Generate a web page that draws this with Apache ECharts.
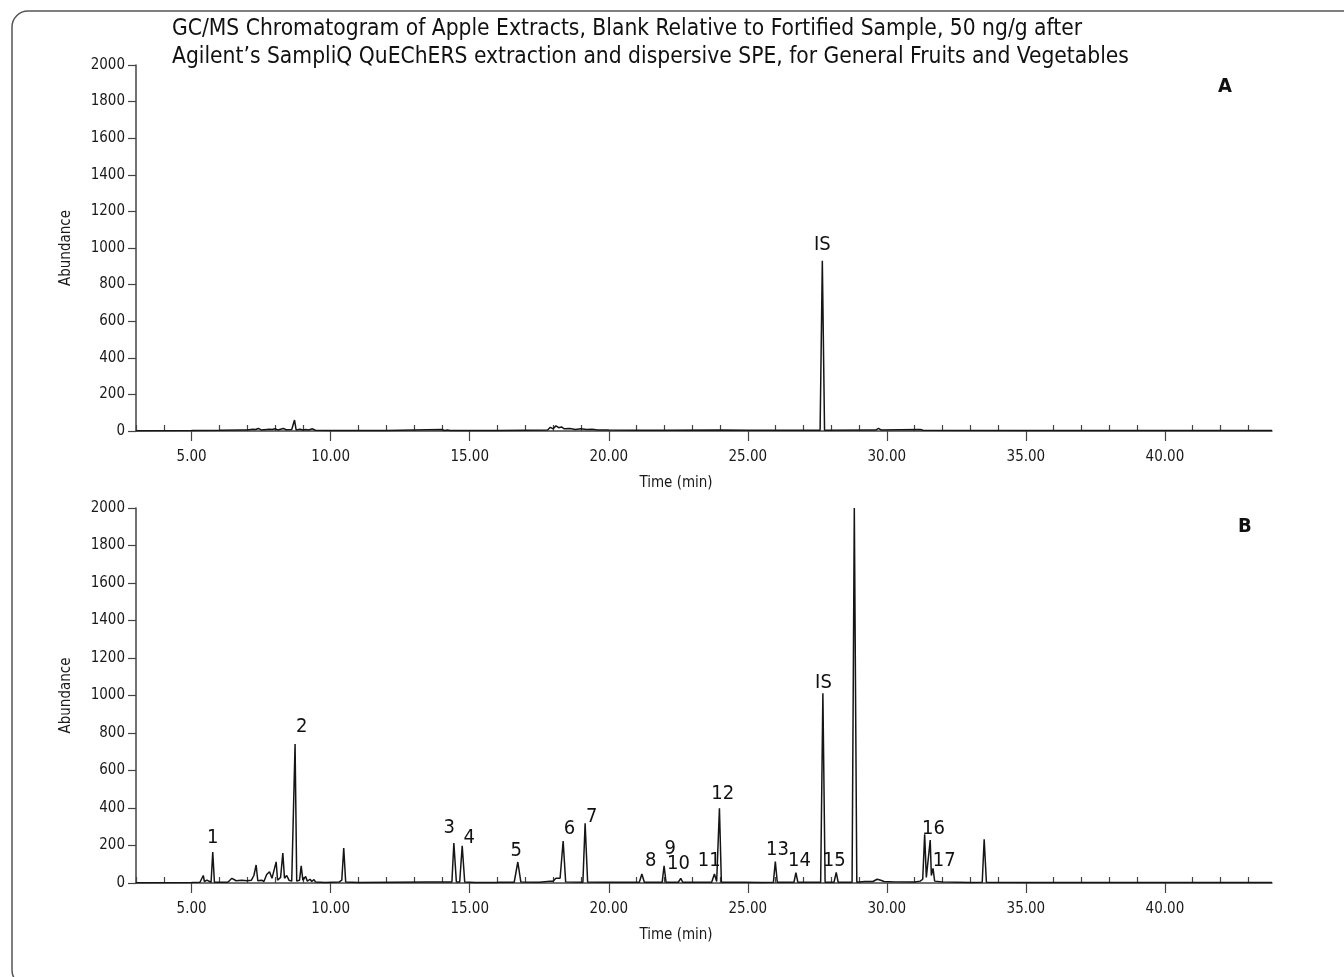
<!DOCTYPE html>
<html><head><meta charset="utf-8">
<script src="https://cdn.jsdelivr.net/npm/echarts@6/dist/echarts.min.js"></script>
<style>html,body{margin:0;padding:0;background:#fff}#c{width:1344px;height:977px}</style>
</head><body><div id="c"></div>
<script>
// ---------- data ----------
const titleLines = [
  "GC/MS Chromatogram of Apple Extracts, Blank Relative to Fortified Sample, 50 ng/g after",
  "Agilent\u2019s SampliQ QuEChERS extraction and dispersive SPE, for General Fruits and Vegetables"
];
const panelLetters = ["A", "B"];
const xMajorTicks = [5, 10, 15, 20, 25, 30, 35, 40];
const xMinorTicks = [3,4,6,7,8,9,11,12,13,14,16,17,18,19,21,22,23,24,26,27,28,29,31,32,33,34,36,37,38,39,41,42,43];
const xName = "Time (min)";
const yName = "Abundance";

// Panel A: blank extract trace (time min, abundance)
const timeA = [3.0,5.0,6.0,6.8,7.0,7.2,7.3,7.4,7.5,7.8,7.9,8.0,8.1,8.3,8.4,8.6,8.64,8.70,8.76,8.9,9.0,9.1,9.2,9.35,9.45,10.0,12.0,14.0,14.1,14.2,14.3,15.95,16.0,16.05,17.0,17.8,17.9,18.0,18.1,18.2,18.3,18.4,18.6,18.8,19.0,19.2,19.4,19.6,20.0,21.0,22.0,24.0,25.0,27.6,27.68,27.76,29.6,29.7,29.8,31.2,31.3,35.0,40.0,43.85];
const abundA = [2,3,4,6,5,10,8,14,6,10,8,12,6,14,7,8,3,60,5,10,6,8,5,12,4,3,3,8,3,6,3,3,12,3,4,5,20,12,28,18,22,12,14,8,12,8,10,6,5,4,4,5,4,4,930,4,5,14,5,8,4,3,3,3];

// Panel B: fortified sample trace (time min, abundance)
const timeB = [3.0,5.0,5.3,5.38,5.42,5.46,5.55,5.6,5.70,5.76,5.82,6.3,6.45,6.5,6.6,6.8,6.85,7.0,7.06,7.15,7.24,7.32,7.38,7.52,7.6,7.7,7.75,7.8,7.85,7.89,7.95,8.04,8.09,8.2,8.28,8.34,8.42,8.5,8.6,8.67,8.72,8.78,8.88,8.94,9.0,9.1,9.16,9.26,9.32,9.4,9.46,9.8,10.3,10.4,10.47,10.54,11.0,13.5,13.8,14.0,14.36,14.43,14.52,14.64,14.73,14.82,15.2,15.95,16.0,16.05,16.6,16.73,16.84,17.5,17.9,17.95,18.0,18.1,18.15,18.25,18.29,18.36,18.45,19.07,19.15,19.24,20.0,21.1,21.19,21.28,21.5,21.55,21.6,21.92,21.99,22.06,22.5,22.59,22.66,23.7,23.8,23.88,23.98,24.05,24.9,25.5,25.92,25.99,26.06,26.66,26.73,26.8,27.62,27.70,27.78,28.1,28.18,28.25,28.75,28.83,28.92,29.2,29.5,29.65,29.70,29.78,29.9,30.3,31.0,31.2,31.29,31.36,31.42,31.47,31.56,31.6,31.66,31.72,32.0,33.0,33.43,33.50,33.58,35.0,40.0,43.85];
const abundB = [2,3,4,28,40,8,15,5,4,165,4,4,25,18,12,15,8,12,20,15,40,96,12,15,8,45,35,60,55,25,15,113,15,30,160,25,40,15,10,8,741,10,15,91,15,35,10,20,8,18,5,3,5,15,187,5,3,5,5,6,5,213,6,6,199,5,3,3,12,4,4,112,5,4,10,20,10,25,15,25,20,224,6,4,318,5,4,4,48,4,4,10,4,4,91,4,4,25,4,4,48,8,398,4,4,3,4,114,4,4,55,4,4,1012,4,4,57,4,4,2000,4,8,8,20,30,15,8,6,5,10,20,260,30,25,229,40,78,10,6,3,4,233,4,3,3,3];

// Peak annotations
const labelsA = ["IS"];
const labelTimeA = [27.68];
const labelAbundA = [1020];
const labelsB = ["1","2","3","4","5","6","7","8","9","10","11","12","13","14","IS","15","16","17"];
const labelTimeB = [5.76,8.96,14.26,14.98,16.67,18.59,19.39,21.51,22.21,22.51,23.61,24.10,26.07,26.86,27.72,28.11,31.68,32.06];
const labelAbundB = [240,834,294,240,172,291,353,119,185,104,119,478,176,119,1070,119,291,117];

// ---------- font pick ----------
function pickFont(list){
  const c=document.createElement('canvas').getContext('2d');
  const t='GC/MS Chromatogram 0123456789';
  for(const f of list){
    c.font='20px monospace'; const w1=c.measureText(t).width;
    c.font='20px "'+f+'", monospace'; const w2=c.measureText(t).width;
    c.font='20px serif'; const w3=c.measureText(t).width;
    c.font='20px "'+f+'", serif'; const w4=c.measureText(t).width;
    if(w1!==w2 || w3!==w4) return f;
  }
  return 'sans-serif';
}
const FONT = pickFont(['Liberation Sans Narrow','DejaVu Sans Condensed','Roboto Condensed','Arial Narrow','Liberation Sans']);

// ---------- chart ----------
const chart = echarts.init(document.getElementById('c'), null, {renderer:'canvas'});
const axisColor = '#444';
const textColor = '#1a1a1a';
const XMIN = 3, XMAX = 43.85;

function xAxes(gi){
  return [
    { type:'value', gridIndex:gi, min:XMIN, max:XMAX, name:xName, nameLocation:'middle', nameGap:45,
      nameTextStyle:{fontFamily:FONT,fontSize:15,color:textColor,padding:[0,56,0,0]},
      axisLine:{show:true,onZero:false,lineStyle:{color:axisColor,width:1.5}},
      axisTick:{show:true,length:10,customValues:xMajorTicks,lineStyle:{color:axisColor,width:1.2}},
      axisLabel:{show:true,customValues:xMajorTicks,margin:19,fontFamily:FONT,fontSize:15,color:textColor,
        formatter:v=>v.toFixed(2)},
      splitLine:{show:false} },
    { type:'value', gridIndex:gi, min:XMIN, max:XMAX,
      axisLine:{show:false},
      axisTick:{show:true,length:6,customValues:xMinorTicks,lineStyle:{color:axisColor,width:1.2}},
      axisLabel:{show:false}, splitLine:{show:false} }
  ];
}
function yAxis(gi){
  return { type:'value', gridIndex:gi, min:0, max:2000, interval:200,
    name:yName, nameLocation:'middle', nameGap:62,
    nameTextStyle:{fontFamily:FONT,fontSize:15,color:textColor},
    axisLine:{show:true,lineStyle:{color:axisColor,width:1.5}},
    axisTick:{show:true,length:8,lineStyle:{color:axisColor,width:1.2}},
    axisLabel:{margin:11,fontFamily:FONT,fontSize:15,color:textColor,formatter:v=>String(v)},
    splitLine:{show:false} };
}
function zip(a,b){return a.map((v,i)=>[v,b[i]]);}
function zip3(a,b,n){return a.map((v,i)=>[v,b[i],n[i]]);}

const traceStyle = {color:'#151515', width:1.5};
const labelSeries = (xi,yi,data)=>({
  type:'scatter', xAxisIndex:xi, yAxisIndex:yi, data:data, symbolSize:1,
  itemStyle:{color:'#ffffff',opacity:0}, silent:true, z:5,
  label:{show:true, position:'inside', formatter:p=>p.data[2], fontFamily:FONT, fontSize:20,
         color:'#111', opacity:1, textBorderWidth:0, textBorderColor:'transparent'}
});

chart.setOption({
  animation:false,
  backgroundColor:'#fff',
  grid:[
    {left:136, right:72, top:65, height:366},
    {left:136, right:72, top:508, height:375}
  ],
  xAxis:[...xAxes(0), ...xAxes(1)],
  yAxis:[yAxis(0), yAxis(1)],
  series:[
    {type:'line', xAxisIndex:0, yAxisIndex:0, data:zip(timeA,abundA), showSymbol:false, lineStyle:traceStyle, silent:true},
    {type:'line', xAxisIndex:2, yAxisIndex:1, data:zip(timeB,abundB), showSymbol:false, lineStyle:traceStyle, silent:true},
    labelSeries(0,0,zip3(labelTimeA,labelAbundA,labelsA)),
    labelSeries(2,1,zip3(labelTimeB,labelAbundB,labelsB))
  ],
  graphic:[
    {type:'rect', shape:{x:12,y:11,width:1400,height:975,r:16}, style:{fill:'none',stroke:'#555',lineWidth:1.5}, silent:true},
    {type:'text', left:172, top:18, style:{text:titleLines[0], font:'22.6px "'+FONT+'"', fill:'#111'}},
    {type:'text', left:172, top:46, style:{text:titleLines[1], font:'22.6px "'+FONT+'"', fill:'#111'}},
    {type:'text', left:1218, top:77, style:{text:panelLetters[0], font:'bold 20px "'+FONT+'"', fill:'#111'}},
    {type:'text', left:1238, top:517, style:{text:panelLetters[1], font:'bold 20px "'+FONT+'"', fill:'#111'}}
  ]
});
</script></body></html>
